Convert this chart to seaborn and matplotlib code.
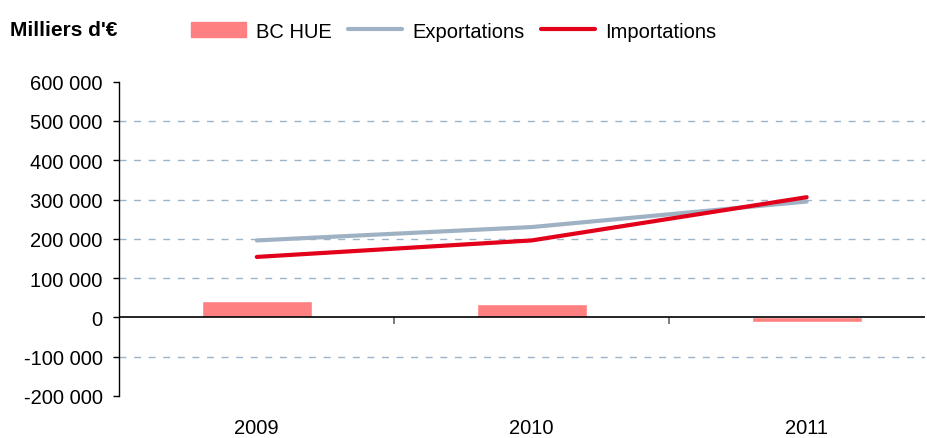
import matplotlib
matplotlib.use('Agg')
import matplotlib.pyplot as plt
import matplotlib.patches as mpatches
from matplotlib.lines import Line2D
from matplotlib.ticker import FuncFormatter
import seaborn as sns

# data (milliers d'euros)
years = ['2009', '2010', '2011']
bc_hue = [43000, 33000, -12000]
exportations = [196000, 230000, 295000]
importations = [154000, 196000, 306000]
y_ticks = [-200000, -100000, 0, 100000, 200000, 300000, 400000, 500000, 600000]

bar_color = '#FF8080'
exp_color = '#9FB2C4'
imp_color = '#E2001A'
grid_color = '#9DB3C8'

sns.set_style('white')
plt.rcParams['font.family'] = ['Liberation Sans', 'DejaVu Sans']
plt.rcParams['text.color'] = 'black'
plt.rcParams['xtick.color'] = 'black'
plt.rcParams['ytick.color'] = 'black'

fig = plt.figure(figsize=(9.28, 4.39), dpi=100)
ax = fig.add_axes([0.1286, 0.0957, 0.868, 0.7159])

sns.barplot(x=years, y=bc_hue, color=bar_color, width=0.4, saturation=1, ax=ax)
sns.pointplot(x=years, y=exportations, color=exp_color, marker='', linewidth=3,
              errorbar=None, ax=ax)
sns.pointplot(x=years, y=importations, color=imp_color, marker='', linewidth=3,
              errorbar=None, ax=ax)

ax.set_ylim(-200000, 600000)
ax.set_xlim(-0.5, 2.43)
ax.set_yticks(y_ticks)
ax.yaxis.set_major_formatter(FuncFormatter(lambda v, p: f'{int(v):,}'.replace(',', ' ')))

# dashed gridlines, except at the limits and at zero
ax.yaxis.grid(True, color=grid_color, linewidth=1, linestyle=(0, (5, 5.5)))
for val, gl in zip(y_ticks, ax.get_ygridlines()):
    if val in (-200000, 0, 600000):
        gl.set_visible(False)

for side in ['top', 'right', 'bottom']:
    ax.spines[side].set_visible(False)
ax.spines['left'].set_color('black')
ax.spines['left'].set_linewidth(1)

ax.tick_params(axis='y', left=True, length=4, width=1, color='black', labelcolor='black',
               pad=8, labelsize=14.5)
ax.tick_params(axis='x', bottom=False, length=0, pad=16, labelcolor='black', labelsize=14.5)
ax.set_xlabel('')
ax.set_ylabel('')

# zero line with category separators
ax.axhline(0, color='black', linewidth=1.2, zorder=1)
zero_loc = (0 - y_ticks[0]) / (y_ticks[-1] - y_ticks[0])
sec = ax.secondary_xaxis(zero_loc)
sec.set_xticks([0.5, 1.5])
sec.set_xticklabels(['', ''])
sec.tick_params(length=5, width=1.2, color='#666666', direction='out')
sec.spines['bottom'].set_visible(False)

fig.text(0.011, 0.93, "Milliers d'€", fontsize=15, fontweight='bold', va='center', ha='left')

handles = [
    mpatches.Patch(color=bar_color, label='BC HUE'),
    Line2D([], [], color=exp_color, linewidth=3, label='Exportations'),
    Line2D([], [], color=imp_color, linewidth=3, label='Importations'),
]
fig.legend(handles=handles, loc='center', bbox_to_anchor=(0.489, 0.927), ncol=3,
           frameon=False, fontsize=14.5, handlelength=2.7, handletextpad=0.5,
           columnspacing=0.8)

fig.savefig('out.png', dpi=100)
